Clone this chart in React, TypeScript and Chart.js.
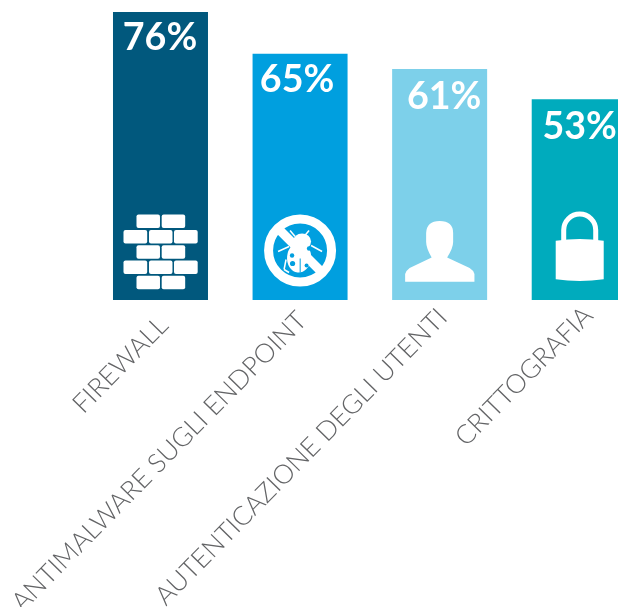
import React, { useEffect, useRef } from "react";
import { Chart, registerables } from "chart.js";

Chart.register(...registerables);

const categories = ["FIREWALL", "ANTIMALWARE SUGLI ENDPOINT", "AUTENTICAZIONE DEGLI UTENTI", "CRITTOGRAFIA"];
const shares = [76, 65, 61, 53];
const barColors = ["#01587d", "#009fdf", "#7dd0ea", "#00abbd"];

// Horizontal nudge and top inset of each percentage label inside its bar
const labelShiftX = [-0.5, -3, 4.5, 0.5];
const labelInset = [38, 38, 40, 40];

// Per-category nudge of the rotated axis labels
const tickShiftX = [3, 2, 3, 9];
const tickShiftY = [5, 0, -3, -5];

type Ctx = CanvasRenderingContext2D;

function roundedBrick(ctx: Ctx, x: number, y: number, w: number, h: number) {
  ctx.beginPath();
  ctx.roundRect(x, y, w, h, 2);
  ctx.fill();
}

// Icons are drawn around the bar's centre line, with y measured from the baseline
function drawWall(ctx: Ctx) {
  const rowY = [-85.5, -70, -54.7, -39.4, -24.2];
  rowY.forEach((y, i) => {
    if (i % 2 === 0) {
      roundedBrick(ctx, -24, y, 23.5, 13.5);
      roundedBrick(ctx, 1.2, y, 23.5, 13.5);
    } else {
      roundedBrick(ctx, -37, y, 23.7, 13.5);
      roundedBrick(ctx, -11.5, y, 23.5, 13.5);
      roundedBrick(ctx, 13.5, y, 23.7, 13.5);
    }
  });
}

function drawBug(ctx: Ctx, background: string) {
  const cy = -49.5;
  ctx.strokeStyle = "#fff";
  ctx.lineWidth = 9;
  ctx.beginPath();
  ctx.arc(0, cy, 31.5, 0, Math.PI * 2);
  ctx.stroke();

  ctx.save();
  ctx.beginPath();
  ctx.arc(0, cy, 32, 0, Math.PI * 2);
  ctx.clip();
  ctx.lineWidth = 9;
  ctx.beginPath();
  ctx.moveTo(-24, cy - 24);
  ctx.lineTo(24, cy + 24);
  ctx.stroke();
  ctx.restore();

  ctx.fillStyle = "#fff";
  ctx.beginPath();
  ctx.ellipse(-1, cy + 7, 12, 15, 0.1, 0, Math.PI * 2);
  ctx.fill();
  ctx.beginPath();
  ctx.ellipse(2, cy - 9, 9, 8, 0, 0, Math.PI * 2);
  ctx.fill();

  ctx.lineWidth = 1.5;
  const limbs = [
    [-10, -20, -5, -14],
    [9, -20, 4, -14],
    [-22, 1, -11, -4],
    [22, 1, 11, -5],
    [-14, 9, -16, 19],
    [-16, 19, -11, 22],
  ];
  limbs.forEach(([x0, y0, x1, y1]) => {
    ctx.beginPath();
    ctx.moveTo(x0, cy + y0);
    ctx.lineTo(x1, cy + y1);
    ctx.stroke();
  });

  ctx.fillStyle = background;
  const spots = [
    [-8, 5, 2.2],
    [-7.5, 13, 2.6],
    [9, -2, 2.2],
    [6.5, 15, 2],
  ];
  spots.forEach(([x, y, r]) => {
    ctx.beginPath();
    ctx.arc(x, cy + y, r, 0, Math.PI * 2);
    ctx.fill();
  });
  ctx.fillRect(-0.4, cy + 8, 1, 14);
}

function drawPerson(ctx: Ctx) {
  ctx.beginPath();
  ctx.moveTo(-34.5, -18.3);
  ctx.lineTo(-34.5, -26);
  ctx.quadraticCurveTo(-33, -30, -30, -32);
  ctx.lineTo(-8, -42.5);
  ctx.quadraticCurveTo(-13.5, -52, -13.5, -58);
  ctx.lineTo(-13.5, -67);
  ctx.quadraticCurveTo(-13, -79, 0, -79);
  ctx.quadraticCurveTo(13.5, -79, 13.5, -67);
  ctx.lineTo(13.5, -58);
  ctx.quadraticCurveTo(13.5, -52, 7.5, -42.5);
  ctx.lineTo(30, -32);
  ctx.quadraticCurveTo(33.5, -30, 34.8, -26);
  ctx.lineTo(34.8, -18.3);
  ctx.closePath();
  ctx.fill();
}

function drawLock(ctx: Ctx) {
  ctx.translate(0.5, 0);
  ctx.strokeStyle = "#fff";
  ctx.lineWidth = 5;
  ctx.beginPath();
  ctx.moveTo(-16, -58);
  ctx.lineTo(-16, -70);
  ctx.arc(0, -70, 16, Math.PI, 0);
  ctx.lineTo(16, -58);
  ctx.stroke();
  ctx.beginPath();
  ctx.moveTo(-24, -59.3);
  ctx.quadraticCurveTo(0, -62.5, 24, -59.3);
  ctx.lineTo(24, -20.7);
  ctx.quadraticCurveTo(0, -17.5, -24, -20.7);
  ctx.closePath();
  ctx.fill();
}

const tickNudge = {
  id: "tickNudge",
  beforeDraw(chart: any) {
    const items = chart.scales.x.getLabelItems(chart.chartArea);
    items.forEach((item: any, i: number) => {
      const [x, y] = item.options.translation;
      item.options.translation = [x + tickShiftX[i], y + tickShiftY[i]];
    });
  },
};

const barDecorations = {
  id: "barDecorations",
  afterDatasetsDraw(chart: Chart) {
    const ctx = chart.ctx;
    const meta = chart.getDatasetMeta(0);
    const base = chart.scales.y.getPixelForValue(0);
    meta.data.forEach((bar: any, i: number) => {
      ctx.save();
      ctx.fillStyle = "#fff";
      ctx.font = "700 37.6px Lato";
      ctx.textAlign = "center";
      ctx.textBaseline = "alphabetic";
      ctx.fillText(`${shares[i]}%`, bar.x + labelShiftX[i], bar.y + labelInset[i]);

      ctx.translate(bar.x, base);
      if (i === 0) drawWall(ctx);
      if (i === 1) drawBug(ctx, barColors[1]);
      if (i === 2) drawPerson(ctx);
      if (i === 3) drawLock(ctx);
      ctx.restore();
    });
  },
};

export default function App() {
  const ref = useRef<HTMLCanvasElement>(null);

  useEffect(() => {
    document.body.style.margin = "0";
    const chart = new Chart(ref.current!, {
      type: "bar",
      data: {
        labels: categories,
        datasets: [
          {
            data: shares,
            backgroundColor: barColors,
            barPercentage: 0.6806,
            categoryPercentage: 1,
          },
        ],
      },
      options: {
        responsive: false,
        animation: false,
        layout: { padding: { left: 90.7, right: 0, top: 0, bottom: 0 } },
        plugins: { legend: { display: false }, tooltip: { enabled: false } },
        scales: {
          x: {
            grid: { display: false },
            border: { display: false },
            afterFit(scale: any) {
              scale.height = 307;
              scale.paddingLeft = 0;
              scale.paddingRight = 0;
            },
            ticks: {
              autoSkip: false,
              minRotation: 45.5,
              maxRotation: 45.5,
              padding: -3,
              color: "#636466",
              font: { family: "Lato", weight: "300", size: 26.4 },
            },
          },
          y: { display: false, min: 0, max: 79.2 },
        },
      },
      plugins: [tickNudge, barDecorations],
    } as any);
    return () => chart.destroy();
  }, []);

  return (
    <div style={{ position: "fixed", left: 0, top: 0, width: 618, height: 607, overflow: "hidden", background: "#fff" }}>
      <canvas ref={ref} width={649} height={607} style={{ display: "block" }} />
    </div>
  );
}
